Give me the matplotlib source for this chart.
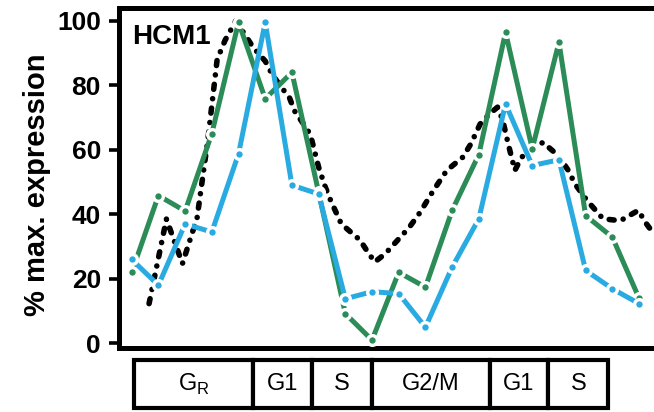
import numpy as np
import matplotlib
matplotlib.use('Agg')
import matplotlib.pyplot as plt
from matplotlib.patches import Rectangle

plt.rcParams['font.family'] = ['Liberation Sans', 'DejaVu Sans']

# time in minutes, one sample every 10 min (green / blue)
t = np.arange(0, 200, 10)
green = [22, 45.8, 41, 65, 99.5, 75.8, 84, 46.8, 9.2, 1,
         22, 17.4, 41.2, 58.5, 96.4, 60.3, 93.3, 39.6, 32.9, 14]
blue = [26, 18, 37, 34.5, 58.7, 99.5, 49, 46.3, 13.8, 16,
        15.4, 5, 23.6, 38.6, 74.2, 55.1, 56.9, 22.6, 16.9, 12.3]

black_t = [6.5, 13, 19, 24.5, 28.5, 32, 35, 39, 45.5, 50, 52.5, 56, 59, 61,
           66, 67.5, 70, 72.5, 74.5, 78.5, 82, 85.5, 88, 91, 95, 99.5, 104,
           108, 113, 118, 124, 127, 130.5, 134, 137, 139, 141, 143.5, 146,
           154, 159.7, 163.5, 166, 170.5, 176.5, 183, 189.7, 192.8, 196]
black = [12.3, 38.5, 24.7, 39, 63, 88, 94, 100, 91.7, 87.5, 83.5, 79.4, 76.3, 72,
         66, 62.8, 54.6, 48.4, 44.3, 37, 34.5, 32, 28.8, 25.2, 27.8, 31.9, 36,
         40.6, 47.4, 53.6, 57.7, 61.8, 68, 71.1, 73.2, 69, 61.8, 53.6, 57.7,
         62.3, 58.2, 53.6, 49.4, 44.3, 38.6, 38, 41.2, 37, 33.4]

phase_edges = [1, 45.5, 67.5, 90, 134, 156, 178.5]
phase_labels = [r'G$_\mathregular{R}$', 'G1', 'S', 'G2/M', 'G1', 'S']

GREEN = '#2b8c58'
BLUE = '#29abe2'

W, H = 654, 412
fig = plt.figure(figsize=(W / 100, H / 100), dpi=100)
ax = fig.add_axes([119 / W, (H - 347.5) / H, (W - 119) / W, 340 / H])

ax.plot(black_t, black, color='black', lw=4.0, dash_capstyle='round',
        linestyle=(0, (0.9, 1.7, 0.01, 1.7)), zorder=2)
ax.plot(t, green, color=GREEN, lw=3.6, marker='o', ms=7,
        mfc=GREEN, mec='white', mew=2.4, zorder=3)
ax.plot(t, blue, color=BLUE, lw=3.6, marker='o', ms=7,
        mfc=BLUE, mec='white', mew=2.4, zorder=4)

ax.set_xlim(-4.76, 195.6)
ax.set_ylim(-1.3, 104.1)
ax.set_yticks([0, 20, 40, 60, 80, 100])
ax.set_xticks([])
ax.tick_params(axis='y', length=7, width=2.6, pad=6, labelsize=19)
for lab in ax.get_yticklabels():
    lab.set_fontweight('bold')
for s in ['left', 'top', 'bottom']:
    ax.spines[s].set_linewidth(3.6)
ax.spines['right'].set_visible(False)

ax.set_ylabel('% max. expression', fontsize=21, fontweight='bold')
ax.yaxis.set_label_coords(-0.128, 0.479)

ax.text(0.024, 0.894, 'HCM1', transform=ax.transAxes, fontsize=20,
        fontweight='bold', va='baseline', ha='left')

# phase boxes under the plot
ax2 = fig.add_axes([119 / W, (H - 408) / H, (W - 119) / W, 48 / H], sharex=ax)
ax2.set_ylim(0, 1)
ax2.axis('off')
for i, lab in enumerate(phase_labels):
    x0, x1 = phase_edges[i], phase_edges[i + 1]
    ax2.add_patch(Rectangle((x0, 0), x1 - x0, 1, facecolor='white',
                            edgecolor='black', lw=3, clip_on=False))
    ax2.text((x0 + x1) / 2, 0.5, lab, ha='center', va='center', fontsize=17)

fig.savefig('out.png', dpi=100)
